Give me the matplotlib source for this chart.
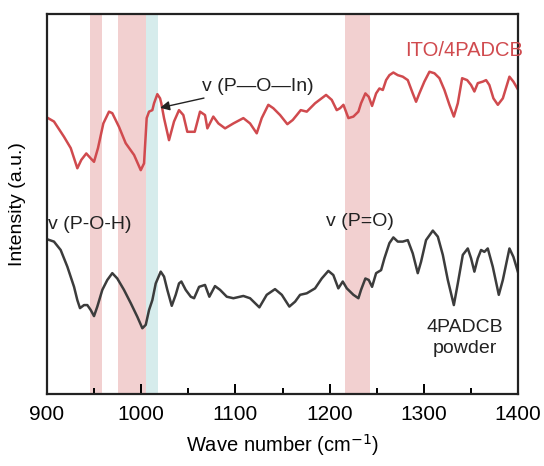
import matplotlib.pyplot as plt
import numpy as np

plt.rcParams['font.family'] = ['Liberation Sans', 'DejaVu Sans']

# ITO/4PADCB spectrum (wavenumber, a.u.)
wn_ito = [901.1, 907.4, 918.0, 925.2, 932.2, 936.4, 941.7, 946.4, 949.9, 954.1,
          959.8, 965.8, 969.3, 976.4, 983.5, 992.4, 999.5, 1003.0, 1005.8, 1008.3,
          1011.8, 1013.6, 1017.1, 1020.0, 1021.3, 1024.2, 1029.5, 1034.8, 1040.1, 1044.7,
          1048.9, 1052.6, 1056.8, 1062.4, 1067.7, 1070.2, 1076.5, 1081.9, 1089.0, 1097.8,
          1108.4, 1115.5, 1122.6, 1127.9, 1134.9, 1140.2, 1147.4, 1155.1, 1160.8, 1165.1,
          1169.3, 1175.7, 1184.5, 1196.2, 1202.2, 1207.5, 1211.0, 1214.6, 1219.9, 1225.2,
          1230.5, 1233.3, 1237.9, 1241.5, 1245.0, 1249.3, 1252.8, 1256.4, 1259.9, 1263.4,
          1267.6, 1272.3, 1277.6, 1282.9, 1288.2, 1291.7, 1295.2, 1300.5, 1305.9, 1311.2,
          1316.5, 1321.8, 1327.1, 1331.8, 1336.0, 1340.6, 1345.9, 1350.1, 1353.6, 1357.2,
          1362.5, 1366.0, 1369.5, 1373.8, 1378.5, 1383.8, 1390.8, 1395.0, 1399.7]
int_ito = [0.726, 0.717, 0.677, 0.647, 0.594, 0.616, 0.633, 0.620, 0.611, 0.647,
           0.712, 0.743, 0.739, 0.703, 0.660, 0.629, 0.589, 0.607, 0.726, 0.743,
           0.747, 0.765, 0.789, 0.778, 0.765, 0.726, 0.668, 0.717, 0.747, 0.734,
           0.690, 0.690, 0.690, 0.743, 0.734, 0.699, 0.730, 0.712, 0.699, 0.712,
           0.726, 0.712, 0.686, 0.726, 0.761, 0.752, 0.734, 0.710, 0.721, 0.734,
           0.747, 0.743, 0.765, 0.787, 0.774, 0.747, 0.752, 0.761, 0.726, 0.730,
           0.743, 0.765, 0.791, 0.782, 0.758, 0.791, 0.804, 0.800, 0.826, 0.839,
           0.846, 0.839, 0.835, 0.826, 0.791, 0.769, 0.791, 0.822, 0.848, 0.844,
           0.831, 0.800, 0.761, 0.730, 0.765, 0.831, 0.826, 0.813, 0.796, 0.818,
           0.822, 0.826, 0.813, 0.778, 0.761, 0.778, 0.835, 0.822, 0.802]

# 4PADCB powder spectrum
wn_pow = [900.3, 907.4, 914.5, 921.6, 928.7, 932.2, 935.0, 939.3, 942.8, 946.4,
          949.9, 953.4, 958.7, 964.0, 969.3, 974.6, 981.7, 988.9, 995.9, 1001.2,
          1004.8, 1008.3, 1011.8, 1015.4, 1020.7, 1024.2, 1027.7, 1032.4, 1036.6, 1040.1,
          1042.6, 1047.2, 1052.6, 1056.1, 1061.4, 1067.7, 1072.3, 1078.3, 1083.7, 1090.8,
          1097.8, 1108.4, 1115.5, 1125.4, 1133.2, 1142.0, 1149.2, 1157.2, 1163.3, 1168.6,
          1175.7, 1184.5, 1191.6, 1198.6, 1203.9, 1209.2, 1213.9, 1218.2, 1225.2, 1230.5,
          1233.3, 1237.9, 1241.5, 1245.0, 1249.3, 1254.6, 1258.1, 1263.4, 1267.6, 1272.3,
          1277.6, 1282.9, 1288.2, 1293.5, 1297.0, 1302.3, 1309.5, 1314.8, 1320.1, 1325.4,
          1331.8, 1336.0, 1341.3, 1346.6, 1350.1, 1353.6, 1357.2, 1360.7, 1364.2, 1367.8,
          1373.1, 1379.5, 1383.8, 1390.8, 1395.0, 1399.7]
int_pow = [0.407, 0.401, 0.379, 0.335, 0.282, 0.247, 0.226, 0.234, 0.234, 0.221,
           0.205, 0.230, 0.274, 0.300, 0.318, 0.304, 0.274, 0.239, 0.203, 0.173,
           0.182, 0.221, 0.247, 0.291, 0.322, 0.309, 0.274, 0.232, 0.261, 0.291,
           0.296, 0.274, 0.256, 0.252, 0.282, 0.287, 0.256, 0.284, 0.274, 0.256,
           0.252, 0.258, 0.252, 0.228, 0.261, 0.276, 0.261, 0.230, 0.243, 0.261,
           0.265, 0.278, 0.304, 0.324, 0.313, 0.278, 0.296, 0.278, 0.261, 0.252,
           0.274, 0.304, 0.300, 0.282, 0.318, 0.326, 0.357, 0.397, 0.412, 0.401,
           0.401, 0.405, 0.370, 0.318, 0.348, 0.405, 0.430, 0.414, 0.366, 0.300,
           0.234, 0.291, 0.366, 0.383, 0.357, 0.322, 0.357, 0.379, 0.374, 0.383,
           0.335, 0.261, 0.300, 0.383, 0.361, 0.322]

# highlighted bands (start, end, colour)
bands = [(946, 958, '#f2d0d0'), (975, 1005, '#f2d0d0'),
         (1005, 1018, '#d6ecec'), (1216, 1243, '#f2d0d0')]

red = '#d04a4e'
dark = '#3c3c3c'

fig = plt.figure(figsize=(5.44, 4.66), dpi=100)
ax = fig.add_axes([0.0864, 0.1545, 0.866, 0.8155])

for a, b, c in bands:
    ax.axvspan(a, b, color=c, lw=0, zorder=0)

ax.plot(wn_ito, int_ito, color=red, lw=1.8, solid_joinstyle='round', zorder=2)
ax.plot(wn_pow, int_pow, color=dark, lw=1.8, solid_joinstyle='round', zorder=2)

ax.set_xlim(900, 1400)
ax.set_ylim(0, 1)
ax.set_xticks(np.arange(900, 1401, 100))
ax.set_xticks(np.arange(950, 1400, 100), minor=True)
ax.set_yticks([])
ax.tick_params(axis='x', which='major', direction='in', length=7, width=1.4,
               labelsize=15, pad=8)
ax.tick_params(axis='x', which='minor', direction='in', length=4, width=1.4)
for s in ax.spines.values():
    s.set_linewidth(1.6)
    s.set_color('#222222')

ax.set_xlabel('Wave number (cm$^{-1}$)', fontsize=14.5, labelpad=6)
ax.set_ylabel('Intensity (a.u.)', fontsize=14, labelpad=15)

ax.text(1343, 0.905, 'ITO/4PADCB', color=red, fontsize=14.5, ha='center', va='center')
ax.text(901, 0.447, 'v (P-O-H)', color='#222222', fontsize=14, ha='left', va='center')
ax.text(1196, 0.455, 'v (P=O)', color='#222222', fontsize=14, ha='left', va='center')
ax.text(1343, 0.148, '4PADCB\npowder', color='#222222', fontsize=14,
        ha='center', va='center', linespacing=1.3)
ax.annotate('v (P\u2014O\u2014In)', xy=(1020, 0.753), xytext=(1064, 0.81),
            fontsize=14, color='#222222', ha='left', va='center',
            arrowprops=dict(arrowstyle='-|>', color='#222222', lw=1.0,
                            shrinkA=2, shrinkB=0, mutation_scale=14))

fig.savefig('out.png', dpi=100)
